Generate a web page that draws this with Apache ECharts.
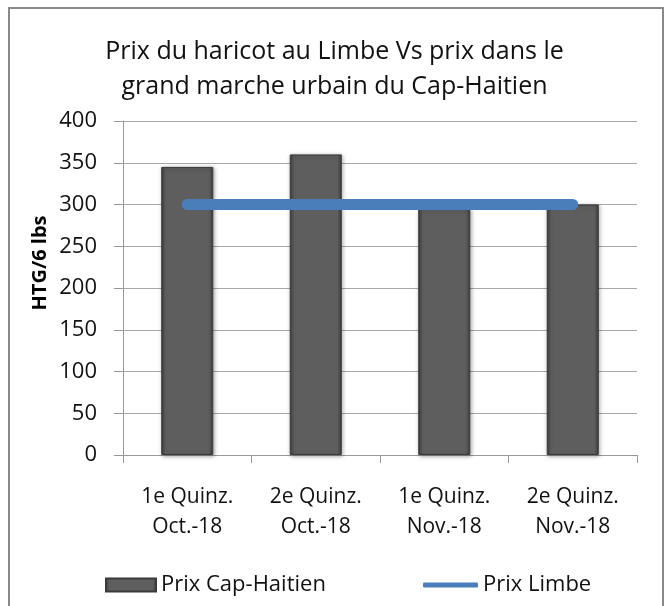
<!DOCTYPE html>
<html style="height: 100%">
<head>
<meta charset="utf-8">
<title>Prix du haricot</title>
<script src="https://cdn.jsdelivr.net/npm/echarts@6/dist/echarts.min.js"></script>
</head>
<body style="height: 100%; margin: 0; background: #fff">
<div id="container" style="width: 669px; height: 606px"></div>
<script type="text/javascript">
var categories = ['1e Quinz.\nOct.-18', '2e Quinz.\nOct.-18', '1e Quinz.\nNov.-18', '2e Quinz.\nNov.-18'];
var prixCap = [345, 360, 295, 300];
var prixLimbe = [300, 300, 300, 300];
var yTicks = {min: 0, max: 400, interval: 50};

var font = 'Open Sans';
var myChart = echarts.init(document.getElementById('container'));

var barColor = new echarts.graphic.LinearGradient(0, 0, 1, 0, [
    {offset: 0, color: '#3c3c3c'},
    {offset: 0.08, color: '#5e5e5e'},
    {offset: 0.92, color: '#5e5e5e'},
    {offset: 1, color: '#3c3c3c'}
]);

var option = {
    backgroundColor: '#fff',
    animation: false,
    title: {
        text: 'Prix du haricot au Limbe Vs prix dans le\ngrand marche urbain du Cap-Haitien',
        left: 'center',
        top: 29,
        textStyle: {
            fontFamily: font,
            fontWeight: 'normal',
            fontSize: 25,
            lineHeight: 35,
            color: '#111'
        }
    },
    graphic: [
        {
            type: 'rect',
            shape: {x: 9, y: 8, width: 654, height: 620},
            style: {fill: 'none', stroke: '#8a8a8a', lineWidth: 2}
        },
        {
            type: 'text',
            x: 40, y: 263,
            rotation: Math.PI / 2,
            style: {
                text: 'HTG/6 lbs',
                fontFamily: font,
                fontWeight: 'bold',
                fontSize: 20,
                fill: '#000',
                align: 'center',
                verticalAlign: 'middle'
            }
        }
    ],
    legend: [
        {
            left: 100, top: 569,
            itemWidth: 50, itemHeight: 13,
            icon: 'rect',
            data: ['Prix Cap-Haitien'],
            textStyle: {fontFamily: font, fontSize: 22, color: '#111'}
        },
        {
            left: 418, top: 569,
            itemWidth: 55, itemHeight: 5,
            icon: 'roundRect',
            data: ['Prix Limbe'],
            textStyle: {fontFamily: font, fontSize: 22, color: '#111'}
        }
    ],
    grid: {left: 123, right: 32, top: 121, bottom: 151},
    xAxis: {
        type: 'category',
        data: categories,
        axisLine: {lineStyle: {color: '#999', width: 1}},
        axisTick: {show: true, length: 8, lineStyle: {color: '#999'}},
        axisLabel: {
            fontFamily: font,
            fontSize: 21,
            lineHeight: 30,
            color: '#111',
            margin: 27
        }
    },
    yAxis: {
        type: 'value',
        min: yTicks.min,
        max: yTicks.max,
        interval: yTicks.interval,
        axisLine: {show: true, lineStyle: {color: '#999', width: 1}},
        axisTick: {show: true, length: 9, lineStyle: {color: '#999'}},
        splitLine: {lineStyle: {color: '#a8a8a8', width: 1}},
        axisLabel: {
            fontFamily: font,
            fontSize: 22,
            color: '#111',
            margin: 26
        }
    },
    series: [
        {
            name: 'Prix Cap-Haitien',
            type: 'bar',
            data: prixCap,
            barWidth: 52,
            itemStyle: {
                color: barColor,
                borderColor: '#3a3a3a',
                borderWidth: 1,
                shadowColor: 'rgba(0,0,0,0.35)',
                shadowBlur: 4,
                shadowOffsetX: 1,
                shadowOffsetY: 1
            }
        },
        {
            name: 'Prix Limbe',
            type: 'line',
            data: prixLimbe,
            symbol: 'none',
            lineStyle: {color: '#4a7ebb', width: 11, cap: 'round'},
            itemStyle: {color: '#4a7ebb'}
        }
    ]
};
myChart.setOption(option);
</script>
</body>
</html>
